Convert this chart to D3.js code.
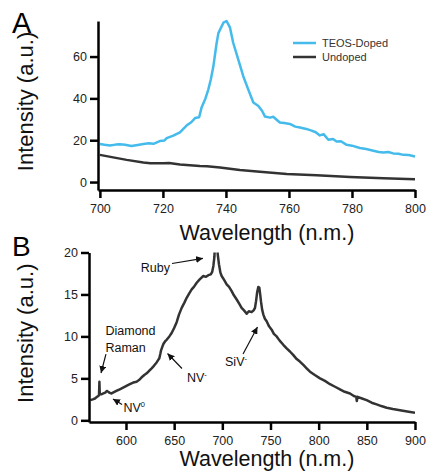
<!DOCTYPE html>
<html>
<head>
<meta charset="utf-8">
<script src="https://cdn.jsdelivr.net/npm/d3@7"></script>
<style>
  body { margin: 0; background: #fff; }
  svg { display: block; font-family: "Liberation Sans", Arial, Helvetica, sans-serif; }
  .tick text { font-size: 12.5px; fill: #222; }
</style>
</head>
<body>
<svg id="chart" width="426" height="471"></svg>
<script>
/* Panel A: SiV emission, doped vs undoped */
const teosDoped = [
  [700, 18.2], [701.5, 17.8], [703.2, 17.5], [705, 17.9], [706.3, 18.1], [708, 17.8],
  [710, 17.2], [712, 17.7], [713.8, 18.2], [715.5, 18.5], [717, 18.3], [719, 19.6],
  [720.5, 19.9], [721.2, 21], [723.3, 22.2], [725.4, 23.8], [727.5, 27], [729, 28.6],
  [730.2, 30.6], [731.5, 31], [732.3, 35.8], [733.5, 40], [734.4, 44.2], [735.2, 49],
  [736, 55.2], [737, 66], [737.6, 71.2], [739.2, 76.2], [740.2, 77], [741.3, 73.8],
  [742.3, 66.6], [743.9, 58.6], [745.5, 50.6], [747.1, 44.2], [748.7, 38], [750.3, 36.4],
  [751.5, 34], [752.4, 31.3], [754, 30.8], [755, 31.2], [757.1, 28.5], [758.5, 28.2],
  [760.3, 27.8], [762, 26.5], [763.5, 26.1], [765.5, 25.4], [767.2, 24.6], [768.5, 23.8],
  [769.8, 22.3], [771, 22.9], [772.5, 20.2], [774, 20.6], [775.1, 19.4], [776.5, 19.5],
  [778.3, 17.8], [780, 17.4], [782.5, 16.3], [784.5, 15.8], [786.8, 15], [788.5, 14.4],
  [790, 14.1], [791.5, 14.4], [793.1, 13.7], [794.8, 13.5], [796.3, 13], [798, 12.9],
  [800, 12.2]
];
const undoped = [
  [700, 13], [704.2, 11.8], [708.5, 10.6], [713.8, 9.4], [716, 9], [720.1, 9],
  [722, 9.1], [725.4, 8.4], [731.7, 7.7], [734, 7.6], [738.1, 7], [744.4, 5.8],
  [750.8, 4.9], [759.3, 3.9], [768.8, 3.2], [779.4, 2.4], [790, 1.8], [800, 1.3]
];
const seriesA = ['TEOS-Doped', 'Undoped'];
const ticksAx = [700, 720, 740, 760, 780, 800];
const ticksAy = [0, 20, 40, 60];

/* Panel B: broad spectrum with labelled features */
const spectrumB = [
  [563, 2.4], [565.5, 2.5], [567.8, 2.6], [570, 2.8], [571.3, 2.9], [572, 3], [572.4, 4.6],
  [572.8, 3.1], [574.5, 3.1], [576.5, 3.2], [578.5, 3.3], [580, 3.5], [581.5, 3.4],
  [582.7, 3.3], [585, 3.2], [587.5, 3.35], [590, 3.5], [593.5, 3.7], [597, 3.9],
  [600.5, 4.1], [604, 4.3], [607.5, 4.5], [611, 4.6], [613.5, 4.8], [616, 5.1],
  [619, 5.4], [621.5, 5.6], [624, 5.9], [626.6, 6.2], [629, 6.5], [631.8, 6.9],
  [633.5, 7.2], [634.6, 7.4], [635.6, 7.9], [636.3, 8.3], [637.5, 8.7], [638.8, 9.1],
  [640.5, 9.4], [642.2, 9.6], [645, 10], [647.4, 10.4], [650, 11], [652.6, 11.7],
  [655, 12.6], [657.8, 13.4], [660.5, 14], [663, 14.6], [665.5, 15.1], [668.2, 15.6],
  [670.5, 15.9], [673.4, 16.4], [676.5, 16.8], [680.3, 17.2], [683, 17.1], [685.5, 17.3],
  [688, 17.4], [689.5, 17.7], [690.7, 18.4], [691.8, 19.5], [692.6, 22], [693.5, 28],
  [694.4, 22], [695.2, 19.8], [696.5, 18.6], [698, 17.6], [699.3, 17.2], [702, 16.7],
  [704.5, 16.2], [707, 15.9], [709.7, 15.4], [712, 14.9], [714.9, 14.4], [717.5, 13.9],
  [720, 13.4], [722.5, 13.1], [725.3, 12.7], [727.5, 13], [730.4, 12.9], [732.5, 13.1],
  [733.9, 13.4], [735, 14.2], [736.2, 15.3], [737.4, 15.9], [738.4, 15.8], [739.3, 15],
  [740.1, 14.2], [741.3, 13.2], [742.6, 12.6], [744.2, 12.1], [746, 11.8], [748.5, 11.2],
  [751.2, 10.8], [753.5, 10.3], [756.4, 10], [759.5, 9.5], [763.3, 9], [766.5, 8.6],
  [770.2, 8.2], [773.5, 7.8], [777.2, 7.3], [780.5, 7], [784.1, 6.6], [787.5, 6.2],
  [791, 5.8], [796, 5.4], [801.4, 5], [806.5, 4.7], [811.8, 4.3], [817, 4],
  [822.1, 3.7], [827, 3.4], [832.5, 3.2], [836.5, 2.9], [839, 2.8], [839.6, 2.3],
  [840.4, 2.8], [845, 2.6], [849.8, 2.4], [855, 2.1], [860.2, 1.9], [865, 1.7],
  [870.6, 1.5], [877, 1.35], [884.4, 1.2], [892, 1.05], [900, 0.9]
];
const ticksBx = [600, 650, 700, 750, 800, 850, 900];
const ticksBy = [0, 5, 10, 15, 20];

// annotation labels, anchored in data units of panel B
const labelsB = [
  { text: 'Ruby', sup: '', wl: 645.7, v: 17.7, anchor: 'end' },
  { text: 'Diamond', sup: '', wl: 578.7, v: 10.17, anchor: 'start' },
  { text: 'Raman', sup: '', wl: 578.7, v: 8.2, anchor: 'start' },
  { text: 'NV', sup: '0', wl: 597.4, v: 0.99, anchor: 'start' },
  { text: 'NV', sup: '-', wl: 663.3, v: 4.57, anchor: 'start' },
  { text: 'SiV', sup: '-', wl: 702.8, v: 6.53, anchor: 'start' }
];
const arrowsB = [
  { from: [647.8, 18.69], to: [679.9, 19.31] },
  { from: [579.2, 7.9], to: [574.1, 5.64] },
  { from: [595.9, 1.89], to: [586.5, 2.54] },
  { from: [658.1, 6.18], to: [643.1, 7.96] },
  { from: [721.5, 7.9], to: [736.5, 11.12] }
];

const blue = '#45bbec';
const dark = '#333333';

const svg = d3.select('#chart');

svg.append('defs').append('marker')
  .attr('id', 'head')
  .attr('viewBox', '0 0 10 10')
  .attr('refX', 10).attr('refY', 5)
  .attr('markerWidth', 7).attr('markerHeight', 7)
  .attr('markerUnits', 'userSpaceOnUse')
  .attr('orient', 'auto')
  .append('path').attr('d', 'M0,0 L10,5 L0,10 z').attr('fill', '#111');

function drawAxes(g, x, y, xt, yt) {
  const xa = g.append('g')
    .attr('transform', `translate(0,${y.range()[0]})`)
    .call(d3.axisBottom(x).tickValues(xt).tickSize(8).tickPadding(4).tickSizeOuter(0));
  const ya = g.append('g')
    .attr('transform', `translate(${x.range()[0]},0)`)
    .call(d3.axisLeft(y).tickValues(yt).tickSize(8).tickPadding(3).tickSizeOuter(0));
  [xa, ya].forEach(a => {
    a.select('.domain').attr('stroke', '#000').attr('stroke-width', 2.5);
    a.selectAll('.tick line').attr('stroke', '#000').attr('stroke-width', 2.5);
  });
  xa.selectAll('.tick text').attr('dy', '0.9em');
}

function axisTitles(g, x, y, xBase, yBase) {
  const midY = (y.range()[0] + y.range()[1]) / 2 - 4;
  g.append('text').attr('x', 267).attr('y', xBase)
    .attr('text-anchor', 'middle').attr('font-size', 21.5).attr('fill', '#111')
    .text('Wavelength (n.m.)');
  g.append('text')
    .attr('transform', `translate(${yBase},${midY}) rotate(-90)`)
    .attr('text-anchor', 'middle').attr('font-size', 22).attr('fill', '#111')
    .text('Intensity (a.u.)');
}

// ---- Panel A
const xA = d3.scaleLinear().domain([699.4, 800]).range([98, 415]);
const yA = d3.scaleLinear().domain([-3.8, 77]).range([190, 21]);
const gA = svg.append('g');

const lineA = d3.line().x(d => xA(d[0])).y(d => yA(d[1]));
gA.append('path').datum(undoped)
  .attr('d', lineA).attr('fill', 'none').attr('stroke', dark).attr('stroke-width', 2.5);
gA.append('path').datum(teosDoped)
  .attr('d', lineA).attr('fill', 'none').attr('stroke', blue).attr('stroke-width', 2.5)
  .attr('stroke-linejoin', 'round');
drawAxes(gA, xA, yA, ticksAx, ticksAy);
axisTitles(gA, xA, yA, 240, 33);

const legend = gA.append('g').attr('transform', 'translate(293,43)');
seriesA.forEach((name, i) => {
  const row = legend.append('g').attr('transform', `translate(0,${i * 14})`);
  row.append('line').attr('x1', 0).attr('x2', 23)
    .attr('stroke', i === 0 ? blue : dark).attr('stroke-width', 2.5);
  row.append('text').attr('x', 29).attr('dy', '0.35em')
    .attr('font-size', 11).attr('fill', '#333').text(name);
});

svg.append('text').attr('x', 12).attr('y', 33).attr('font-size', 29).attr('fill', '#000').text('A');

// ---- Panel B
const xB = d3.scaleLinear().domain([561.6, 900]).range([89, 415]);
const yB = d3.scaleLinear().domain([-0.2, 20]).range([422, 252.5]);
const gB = svg.append('g');

gB.append('clipPath').attr('id', 'clipB').append('rect')
  .attr('x', xB.range()[0]).attr('y', yB.range()[1])
  .attr('width', xB.range()[1] - xB.range()[0]).attr('height', yB.range()[0] - yB.range()[1]);

const lineB = d3.line().x(d => xB(d[0])).y(d => yB(d[1]));
gB.append('path').datum(spectrumB)
  .attr('clip-path', 'url(#clipB)')
  .attr('d', lineB).attr('fill', 'none').attr('stroke', dark).attr('stroke-width', 2.5)
  .attr('stroke-linejoin', 'round');
drawAxes(gB, xB, yB, ticksBx, ticksBy);
axisTitles(gB, xB, yB, 466, 33);

labelsB.forEach(l => {
  const t = gB.append('text').attr('x', xB(l.wl)).attr('y', yB(l.v))
    .attr('text-anchor', l.anchor).attr('font-size', 12.5).attr('fill', '#111')
    .text(l.text);
  if (l.sup) {
    t.append('tspan').attr('font-size', 7.5).attr('dy', -5).text(l.sup);
  }
});

gB.selectAll('line.arrow').data(arrowsB).join('line')
  .attr('class', 'arrow')
  .attr('x1', d => xB(d.from[0])).attr('y1', d => yB(d.from[1]))
  .attr('x2', d => xB(d.to[0])).attr('y2', d => yB(d.to[1]))
  .attr('stroke', '#111').attr('stroke-width', 1.2)
  .attr('marker-end', 'url(#head)');

svg.append('text').attr('x', 12).attr('y', 256).attr('font-size', 28).attr('fill', '#000').text('B');
</script>
</body>
</html>
